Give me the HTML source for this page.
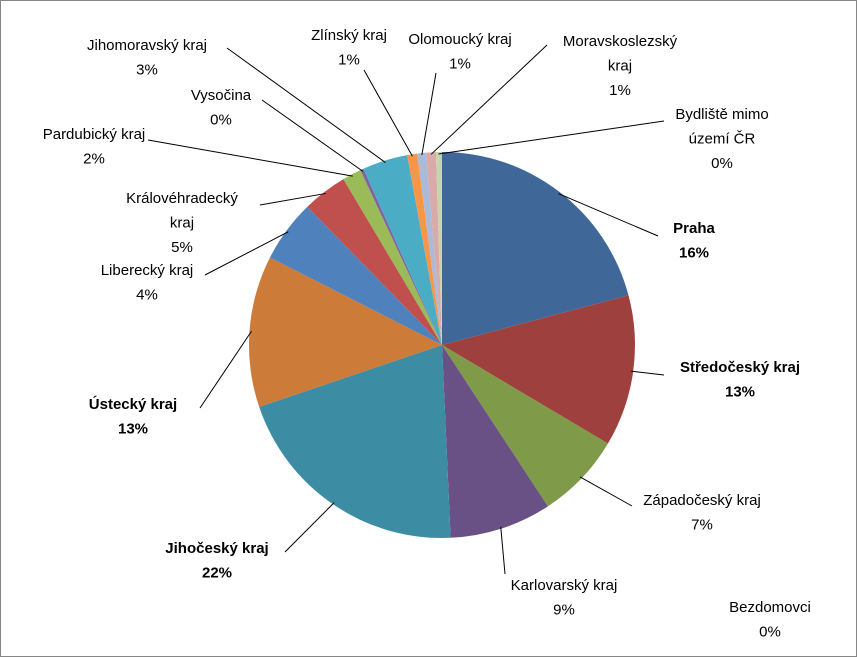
<!DOCTYPE html>
<html><head><meta charset="utf-8"><style>
body{margin:0;background:#fff}
svg{display:block}
text{font-family:"Liberation Sans",sans-serif;font-size:15px;fill:#000;text-anchor:middle}
.b{font-weight:bold}
</style></head><body>
<svg id="chart" width="857" height="657" viewBox="0 0 857 657">
<rect x="0.5" y="0.5" width="856" height="656" fill="#fff" stroke="#868686"/>
<g id="slices"></g><g id="labels"></g>
</svg>
<script>
const categories=["Praha","Středočeský kraj","Západočeský kraj","Karlovarský kraj","Jihočeský kraj","Ústecký kraj","Liberecký kraj","Královéhradecký kraj","Pardubický kraj","Vysočina","Jihomoravský kraj","Zlínský kraj","Olomoucký kraj","Moravskoslezský kraj","Bydliště mimo území ČR","Bezdomovci"];
const values=[75,45.6,26,30.7,73.8,45.6,18.8,13.5,5.7,1,13.6,3,2.7,2.9,1.5,0.3];
const percentLabels=["16%","13%","7%","9%","22%","13%","4%","5%","2%","0%","3%","1%","1%","1%","0%","0%"];
const colors=["#3F6797","#9E413E","#7F9A48","#695185","#3C8DA3","#CC7B38","#4F81BD","#C0504D","#9BBB59","#8064A2","#4BACC6","#F79646","#AABAD7","#D9AAA9","#C6D6AC","#B9CDE5"];
const labelLines=[[["Praha"],694,233,true,658,236],[["Středočeský kraj"],740,372,true,664,375],[["Západočeský kraj"],702,505,false,632,506],[["Karlovarský kraj"],564,590,false,505,574],[["Jihočeský kraj"],217,553,true,285,552],[["Ústecký kraj"],133,409,true,200,408],[["Liberecký kraj"],147,275,false,205,275],[["Královéhradecký","kraj"],182,203,false,260,205],[["Pardubický kraj"],94,139,false,148,140],[["Vysočina"],221,100,false,262,100],[["Jihomoravský kraj"],147,50,false,227,48],[["Zlínský kraj"],349,40,false,364,70],[["Olomoucký kraj"],460,44,false,436,73],[["Moravskoslezský","kraj"],620,46,false,547,45],[["Bydliště mimo","území ČR"],722,119,false,664,121],[["Bezdomovci"],770,612,false,null,null]];
const cx=442,cy=345,r=193,NS="http://www.w3.org/2000/svg";
const total=values.reduce((a,b)=>a+b,0);
const pt=(a,rr)=>[cx+rr*Math.sin(a),cy-rr*Math.cos(a)];
const gS=document.getElementById('slices'),gL=document.getElementById('labels');
let acc=0;
values.forEach((v,i)=>{
 const a0=acc/total*2*Math.PI;acc+=v;const a1=acc/total*2*Math.PI;
 const p0=pt(a0,r),p1=pt(a1,r),large=(a1-a0)>Math.PI?1:0;
 const p=document.createElementNS(NS,'path');
 p.setAttribute('d',`M${cx},${cy}L${p0[0]},${p0[1]}A${r},${r} 0 ${large} 1 ${p1[0]},${p1[1]}Z`);
 p.setAttribute('fill',colors[i]);
 
 
 gS.appendChild(p);
 const L=labelLines[i];
 if(L[4]!==null){const m=pt((a0+a1)/2,r-2);
  const ln=document.createElementNS(NS,'line');
  ln.setAttribute('x1',L[4]);ln.setAttribute('y1',L[5]);ln.setAttribute('x2',m[0]);ln.setAttribute('y2',m[1]);
  ln.setAttribute('stroke','#000');ln.setAttribute('stroke-width','1');
  
  
  gL.appendChild(ln);}
 const lines=L[0].concat([percentLabels[i]]);
 lines.forEach((s,k)=>{
  const t=document.createElementNS(NS,'text');
  t.setAttribute('x',L[1]);t.setAttribute('y',L[2]+k*24.5);
  if(L[3])t.setAttribute('class','b');
  t.textContent=s;
  
  
  gL.appendChild(t);});
});
</script>
</body></html>
